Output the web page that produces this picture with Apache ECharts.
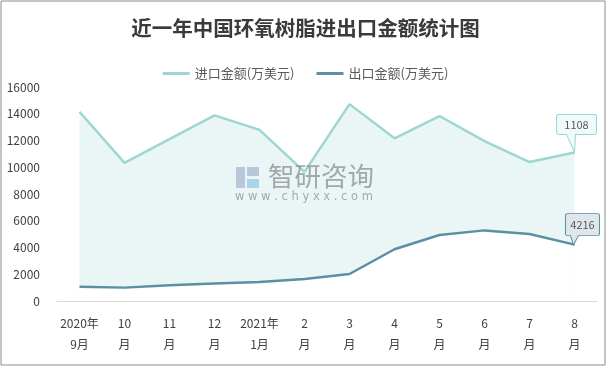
<!DOCTYPE html>
<html><head><meta charset="utf-8">
<script src="https://cdn.jsdelivr.net/npm/echarts@6/dist/echarts.min.js"></script>
<style>html,body{margin:0;padding:0;background:#fff}#c{width:611px;height:369px}</style>
</head><body><div id="c"></div>
<script>
var categories = ['2020年\n9月','10\n月','11\n月','12\n月','2021年\n1月','2\n月','3\n月','4\n月','5\n月','6\n月','7\n月','8\n月'];
var importValues = [14150, 10330, 12110, 13880, 12790, 9650, 14720, 12160, 13830, 11950, 10390, 11108];
var exportValues = [1070, 1000, 1180, 1300, 1420, 1640, 2020, 3870, 4930, 5280, 5010, 4216];
var yTicks = [0, 2000, 4000, 6000, 8000, 10000, 12000, 14000, 16000];
var importName = '进口金额(万美元)';
var exportName = '出口金额(万美元)';
var importLabel = '1108';
var exportLabel = '4216';

var FONT = '"Noto Sans CJK SC", sans-serif';
var chart = echarts.init(document.getElementById('c'), null, {renderer: 'canvas'});
var last = categories.length - 1;
var wm = 'rgba(140,140,140,0.75)';

chart.setOption({
  animation: false,
  backgroundColor: '#fff',
  textStyle: {fontFamily: FONT},
  title: {
    text: '近一年中国环氧树脂进出口金额统计图',
    left: 'center', top: 13,
    textStyle: {fontFamily: FONT, fontSize: 20.5, fontWeight: 'bold', color: '#3a3a3a'}
  },
  legend: {
    top: 62, left: 'center', itemGap: 22, itemWidth: 27, itemHeight: 3,
    icon: 'rect',
    textStyle: {fontFamily: FONT, fontSize: 13, color: '#595959'},
    data: [importName, exportName]
  },
  grid: {left: 57, right: 14, top: 87, bottom: 68, containLabel: false},
  xAxis: {
    type: 'category', data: categories, boundaryGap: true, z: 5,
    axisLine: {lineStyle: {color: '#d9d9d9', width: 1}},
    axisTick: {show: false},
    axisLabel: {color: '#404040', fontSize: 12, lineHeight: 21, margin: 12, interval: 0, fontFamily: FONT}
  },
  yAxis: {
    type: 'value', min: yTicks[0], max: yTicks[yTicks.length - 1], interval: 2000,
    axisLine: {show: false}, axisTick: {show: false}, splitLine: {show: false},
    axisLabel: {color: '#404040', fontSize: 12, margin: 17, fontFamily: FONT, formatter: function (v) { return String(v); }}
  },
  series: [
    {
      name: importName, type: 'line', data: importValues, showSymbol: false, symbol: 'none',
      lineStyle: {color: '#9dd6d2', width: 2.5}, itemStyle: {color: '#9dd6d2'},
      areaStyle: {color: '#eaf6f6', opacity: 1},
      markPoint: {
        silent: true,
        data: [{coord: [last, importValues[last]], value: importLabel}],
        symbol: 'path://M2,0 L38,0 Q40,0 40,2 L40,18 Q40,20 38,20 L19,20 L18,38 L10,20 L2,20 Q0,20 0,18 L0,2 Q0,0 2,0 Z',
        symbolSize: [40, 38], symbolOffset: [2, -19], symbolKeepAspect: false,
        itemStyle: {color: '#effafa', borderColor: '#9dd6d2', borderWidth: 1},
        label: {show: true, position: 'inside', offset: [0, -9], color: '#595959', fontSize: 11, fontFamily: FONT, formatter: '{c}'}
      }
    },
    {
      name: exportName, type: 'line', data: exportValues, showSymbol: false, symbol: 'none',
      lineStyle: {color: '#5b8fa3', width: 2.5}, itemStyle: {color: '#5b8fa3'},
      areaStyle: {color: '#ffffff', opacity: 1},
      markPoint: {
        silent: true,
        data: [{coord: [last, exportValues[last]], value: exportLabel}],
        symbol: 'path://M2,0 L32,0 Q34,0 34,2 L34,20 Q34,22 32,22 L13,22 L8,31 L5,22 L2,22 Q0,22 0,20 L0,2 Q0,0 2,0 Z',
        symbolSize: [34, 31], symbolOffset: [8, -15.5], symbolKeepAspect: false,
        itemStyle: {color: '#dfe7ec', borderColor: '#5b8fa3', borderWidth: 1},
        label: {show: true, position: 'inside', offset: [0, -4.5], color: '#595959', fontSize: 11, fontFamily: FONT, formatter: '{c}'}
      }
    }
  ],
  graphic: {
    elements: [
      {type: 'rect', x: 1, y: 1, shape: {x: 0, y: 0, width: 604, height: 364}, style: {fill: 'none', stroke: '#8c8c8c', lineWidth: 1}, z: 100, silent: true},
      {type: 'rect', x: 236, y: 167, shape: {x: 0, y: 0, width: 9, height: 21}, style: {fill: 'rgba(150,170,200,0.6)'}, z: 50, silent: true},
      {type: 'rect', x: 247, y: 167, shape: {x: 0, y: 0, width: 12, height: 9}, style: {fill: 'rgba(150,170,200,0.6)'}, z: 50, silent: true},
      {type: 'rect', x: 247, y: 179, shape: {x: 0, y: 0, width: 12, height: 9}, style: {fill: 'rgba(130,190,225,0.6)'}, z: 50, silent: true},
      {type: 'text', x: 268, y: 163, style: {text: '智研咨询', fontSize: 26.5, fontFamily: 'Noto Sans CJK SC', fill: wm}, z: 50, silent: true},
      {type: 'text', x: 235, y: 191, style: {text: 'w w w . c h y x x . c o m', fontSize: 11.5, fontFamily: 'DejaVu Sans', fill: wm}, z: 50, silent: true}
    ]
  }
});
</script></body></html>
